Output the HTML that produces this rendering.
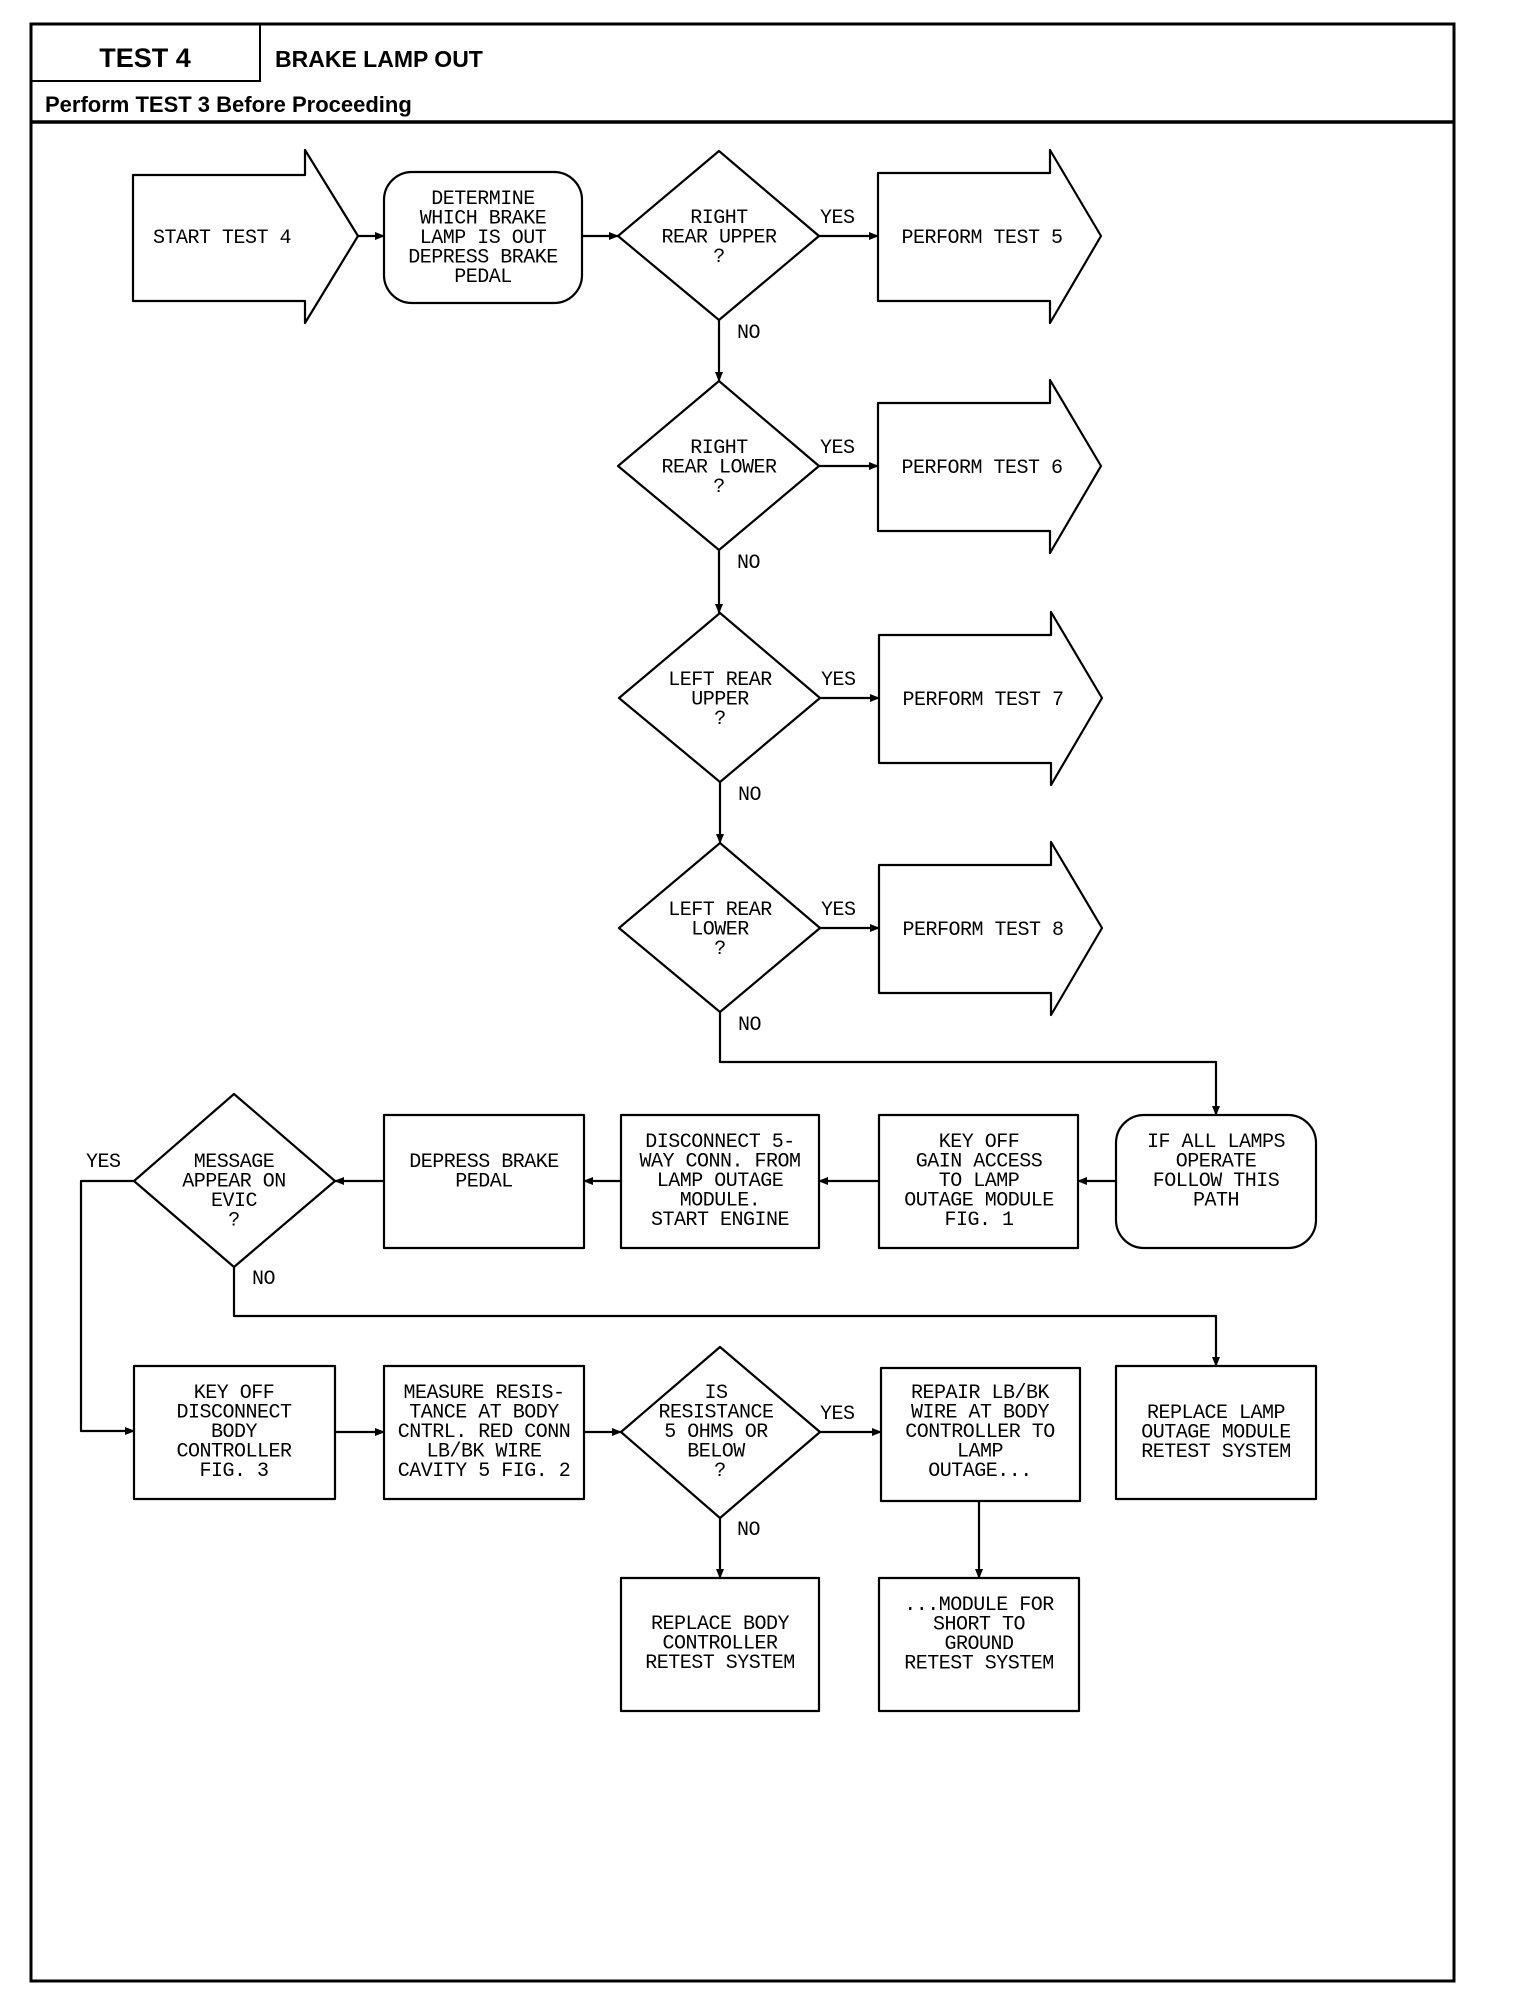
<!DOCTYPE html>
<html><head><meta charset="utf-8"><style>
html,body{margin:0;padding:0;background:#fff;}
svg{display:block;}
.t{font-family:"Liberation Mono",monospace;font-size:20px;letter-spacing:-0.5px;fill:#000;text-anchor:middle;}
.l{font-family:"Liberation Mono",monospace;font-size:20px;letter-spacing:-0.5px;fill:#000;}
.s{fill:none;stroke:#000;stroke-width:2.2;stroke-linejoin:round;}
.b{fill:#fff;stroke:#000;stroke-width:2.2;stroke-linejoin:round;}
.h{font-family:"Liberation Sans",sans-serif;font-weight:bold;fill:#000;}
</style></head><body>
<svg width="1520" height="2010" viewBox="0 0 1520 2010" xmlns="http://www.w3.org/2000/svg">
<defs><marker id="a" markerWidth="10" markerHeight="10" refX="9" refY="5" orient="auto" markerUnits="userSpaceOnUse"><path d="M0,1 L10,5 L0,9 Z" fill="#000"/></marker></defs>
<!-- frame -->
<rect x="31" y="24" width="1423" height="1957" fill="none" stroke="#000" stroke-width="3"/>
<line x1="31" y1="122" x2="1454" y2="122" stroke="#000" stroke-width="3.5"/>
<polyline points="31,81 260,81 260,24" fill="none" stroke="#000" stroke-width="2"/>
<text class="h" x="145" y="67" font-size="27" text-anchor="middle">TEST 4</text>
<text class="h" x="275" y="67" font-size="23">BRAKE LAMP OUT</text>
<text class="h" x="45" y="112" font-size="22">Perform TEST 3 Before Proceeding</text>

<!-- start arrow -->
<path class="b" d="M133,175 H305 V150 L358,236 L305,323 V301 H133 Z"/>
<text class="t" x="222" y="243">START TEST 4</text>
<rect class="b" x="384" y="172" width="198" height="131" rx="28"/>
<text class="t" x="483" y="204">DETERMINE<tspan x="483" dy="19.5">WHICH BRAKE</tspan><tspan x="483" dy="19.5">LAMP IS OUT</tspan><tspan x="483" dy="19.5">DEPRESS BRAKE</tspan><tspan x="483" dy="19.5">PEDAL</tspan></text>
<line class="s" x1="358" y1="236" x2="384" y2="236" marker-end="url(#a)"/>
<line class="s" x1="582" y1="236" x2="618" y2="236" marker-end="url(#a)"/>

<!-- decision rows -->
<g>
<path class="b" d="M719,151 L819,236 L719,320 L618,236 Z"/>
<text class="t" x="719" y="223">RIGHT<tspan x="719" dy="19.5">REAR UPPER</tspan><tspan x="719" dy="19.5">?</tspan></text>
<line class="s" x1="819" y1="236" x2="878" y2="236" marker-end="url(#a)"/>
<text class="l" x="820" y="223">YES</text>
<path class="b" d="M878,173 H1050 V150 L1101,236 L1050,323 V301 H878 Z"/>
<text class="t" x="982" y="243">PERFORM TEST 5</text>
<line class="s" x1="719" y1="320" x2="719" y2="381" marker-end="url(#a)"/>
<text class="l" x="737" y="338">NO</text>
</g>
<g transform="translate(0,230)">
<path class="b" d="M719,151 L819,236 L719,320 L618,236 Z"/>
<text class="t" x="719" y="223">RIGHT<tspan x="719" dy="19.5">REAR LOWER</tspan><tspan x="719" dy="19.5">?</tspan></text>
<line class="s" x1="819" y1="236" x2="878" y2="236" marker-end="url(#a)"/>
<text class="l" x="820" y="223">YES</text>
<path class="b" d="M878,173 H1050 V150 L1101,236 L1050,323 V301 H878 Z"/>
<text class="t" x="982" y="243">PERFORM TEST 6</text>
<line class="s" x1="719" y1="320" x2="719" y2="383" marker-end="url(#a)"/>
<text class="l" x="737" y="338">NO</text>
</g>
<g transform="translate(1,462)">
<path class="b" d="M719,151 L819,236 L719,320 L618,236 Z"/>
<text class="t" x="719" y="223">LEFT REAR<tspan x="719" dy="19.5">UPPER</tspan><tspan x="719" dy="19.5">?</tspan></text>
<line class="s" x1="819" y1="236" x2="878" y2="236" marker-end="url(#a)"/>
<text class="l" x="820" y="223">YES</text>
<path class="b" d="M878,173 H1050 V150 L1101,236 L1050,323 V301 H878 Z"/>
<text class="t" x="982" y="243">PERFORM TEST 7</text>
<line class="s" x1="719" y1="320" x2="719" y2="381" marker-end="url(#a)"/>
<text class="l" x="737" y="338">NO</text>
</g>
<g transform="translate(1,692)">
<path class="b" d="M719,151 L819,236 L719,320 L618,236 Z"/>
<text class="t" x="719" y="223">LEFT REAR<tspan x="719" dy="19.5">LOWER</tspan><tspan x="719" dy="19.5">?</tspan></text>
<line class="s" x1="819" y1="236" x2="878" y2="236" marker-end="url(#a)"/>
<text class="l" x="820" y="223">YES</text>
<path class="b" d="M878,173 H1050 V150 L1101,236 L1050,323 V301 H878 Z"/>
<text class="t" x="982" y="243">PERFORM TEST 8</text>
<text class="l" x="737" y="338">NO</text>
</g>
<polyline class="s" points="720,1012 720,1062 1216,1062 1216,1115" marker-end="url(#a)"/>

<!-- row 2 -->
<rect class="b" x="1116" y="1115" width="200" height="133" rx="28"/>
<text class="t" x="1216" y="1147">IF ALL LAMPS<tspan x="1216" dy="19.5">OPERATE</tspan><tspan x="1216" dy="19.5">FOLLOW THIS</tspan><tspan x="1216" dy="19.5">PATH</tspan></text>
<rect class="b" x="879" y="1115" width="199" height="133"/>
<text class="t" x="979" y="1147">KEY OFF<tspan x="979" dy="19.5">GAIN ACCESS</tspan><tspan x="979" dy="19.5">TO LAMP</tspan><tspan x="979" dy="19.5">OUTAGE MODULE</tspan><tspan x="979" dy="19.5">FIG. 1</tspan></text>
<rect class="b" x="621" y="1115" width="198" height="133"/>
<text class="t" x="720" y="1147">DISCONNECT 5-<tspan x="720" dy="19.5">WAY CONN. FROM</tspan><tspan x="720" dy="19.5">LAMP OUTAGE</tspan><tspan x="720" dy="19.5">MODULE.</tspan><tspan x="720" dy="19.5">START ENGINE</tspan></text>
<rect class="b" x="384" y="1115" width="200" height="133"/>
<text class="t" x="484" y="1167">DEPRESS BRAKE<tspan x="484" dy="19.5">PEDAL</tspan></text>
<path class="b" d="M234,1094 L335,1181 L234,1267 L134,1181 Z"/>
<text class="t" x="234" y="1167">MESSAGE<tspan x="234" dy="19.5">APPEAR ON</tspan><tspan x="234" dy="19.5">EVIC</tspan><tspan x="234" dy="19.5">?</tspan></text>
<line class="s" x1="1116" y1="1181" x2="1078" y2="1181" marker-end="url(#a)"/>
<line class="s" x1="879" y1="1181" x2="819" y2="1181" marker-end="url(#a)"/>
<line class="s" x1="621" y1="1181" x2="584" y2="1181" marker-end="url(#a)"/>
<line class="s" x1="384" y1="1181" x2="335" y2="1181" marker-end="url(#a)"/>
<text class="l" x="86" y="1167">YES</text>
<polyline class="s" points="134,1181 81,1181 81,1431 134,1431" marker-end="url(#a)"/>
<text class="l" x="252" y="1284">NO</text>
<polyline class="s" points="234,1267 234,1316 1216,1316 1216,1366" marker-end="url(#a)"/>

<!-- row 3 -->
<rect class="b" x="134" y="1366" width="201" height="133"/>
<text class="t" x="234" y="1398">KEY OFF<tspan x="234" dy="19.5">DISCONNECT</tspan><tspan x="234" dy="19.5">BODY</tspan><tspan x="234" dy="19.5">CONTROLLER</tspan><tspan x="234" dy="19.5">FIG. 3</tspan></text>
<rect class="b" x="384" y="1366" width="200" height="133"/>
<text class="t" x="484" y="1398">MEASURE RESIS-<tspan x="484" dy="19.5">TANCE AT BODY</tspan><tspan x="484" dy="19.5">CNTRL. RED CONN</tspan><tspan x="484" dy="19.5">LB/BK WIRE</tspan><tspan x="484" dy="19.5">CAVITY 5 FIG. 2</tspan></text>
<path class="b" d="M720,1347 L820,1432 L720,1518 L621,1432 Z"/>
<text class="t" x="716" y="1398">IS<tspan x="716" dy="19.5">RESISTANCE</tspan><tspan x="716" dy="19.5">5 OHMS OR</tspan><tspan x="716" dy="19.5">BELOW</tspan><tspan x="720" dy="19.5">?</tspan></text>
<rect class="b" x="881" y="1368" width="199" height="133"/>
<text class="t" x="980" y="1398">REPAIR LB/BK<tspan x="980" dy="19.5">WIRE AT BODY</tspan><tspan x="980" dy="19.5">CONTROLLER TO</tspan><tspan x="980" dy="19.5">LAMP</tspan><tspan x="980" dy="19.5">OUTAGE...</tspan></text>
<rect class="b" x="1116" y="1366" width="200" height="133"/>
<text class="t" x="1216" y="1418">REPLACE LAMP<tspan x="1216" dy="19.5">OUTAGE MODULE</tspan><tspan x="1216" dy="19.5">RETEST SYSTEM</tspan></text>
<line class="s" x1="335" y1="1432" x2="384" y2="1432" marker-end="url(#a)"/>
<line class="s" x1="584" y1="1432" x2="621" y2="1432" marker-end="url(#a)"/>
<line class="s" x1="820" y1="1432" x2="881" y2="1432" marker-end="url(#a)"/>
<text class="l" x="820" y="1419">YES</text>
<line class="s" x1="720" y1="1518" x2="720" y2="1578" marker-end="url(#a)"/>
<text class="l" x="737" y="1535">NO</text>
<line class="s" x1="979" y1="1501" x2="979" y2="1578" marker-end="url(#a)"/>

<!-- row 4 -->
<rect class="b" x="621" y="1578" width="198" height="133"/>
<text class="t" x="720" y="1629">REPLACE BODY<tspan x="720" dy="19.5">CONTROLLER</tspan><tspan x="720" dy="19.5">RETEST SYSTEM</tspan></text>
<rect class="b" x="879" y="1578" width="200" height="133"/>
<text class="t" x="979" y="1610">...MODULE FOR<tspan x="979" dy="19.5">SHORT TO</tspan><tspan x="979" dy="19.5">GROUND</tspan><tspan x="979" dy="19.5">RETEST SYSTEM</tspan></text>
</svg>
</body></html>
